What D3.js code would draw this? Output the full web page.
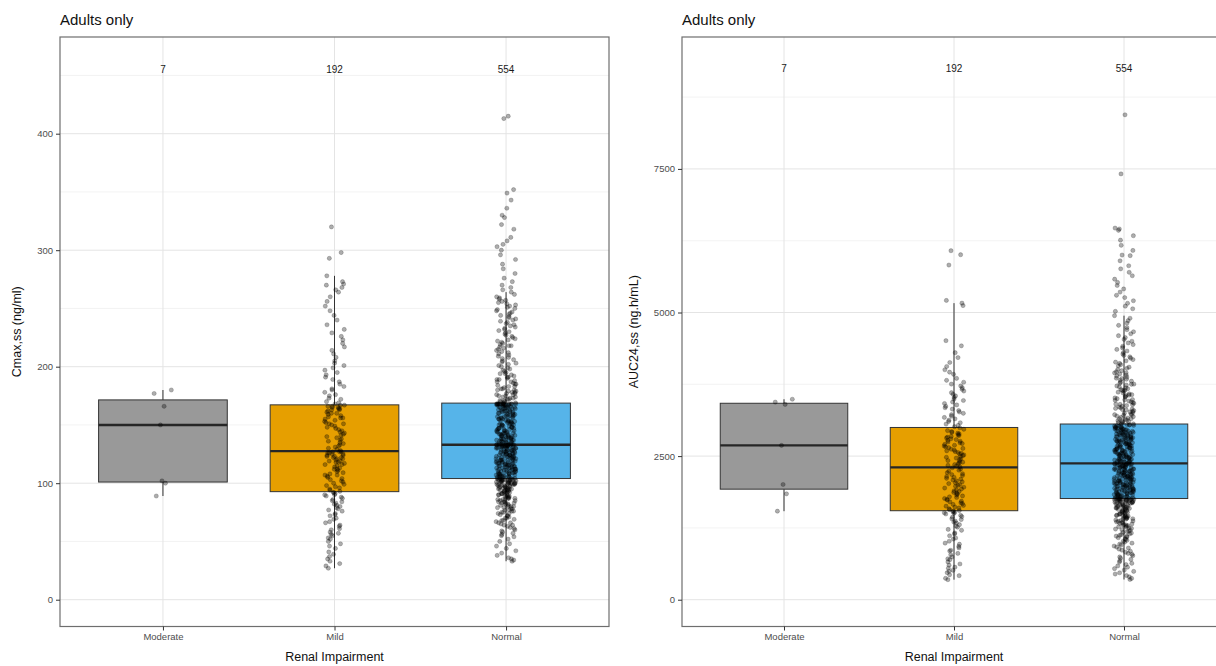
<!DOCTYPE html>
<html>
<head>
<meta charset="utf-8">
<script src="https://cdn.jsdelivr.net/npm/d3@7"></script>
<style>
  body { margin: 0; background: #fff; }
  svg { font-family: "Liberation Sans", Arial, sans-serif; }
</style>
</head>
<body>
<div id="chart"></div>
<script>
// categories, fills, n labels
const groups = ["Moderate", "Mild", "Normal"];
const groupColors = ["#999999", "#E69F00", "#56B4E9"];
const countLabels = ["7", "192", "554"];

// tick labels
const cmaxTicks = [0, 100, 200, 300, 400];
const aucTicks = [0, 2500, 5000, 7500];

// Cmax,ss (ng/ml) per subject
const cmaxModerate = [180, 177, 166, 150, 102, 100, 89];
const cmaxMild = [
  27, 29, 31, 33, 35, 37, 39, 41, 44, 46, 48, 50, 52, 53, 55, 56, 57, 58, 60, 61,
  63, 64, 66, 67, 69, 70, 72, 73, 74, 76, 77, 78, 79, 80, 81, 82, 83, 84, 85, 86,
  87, 88, 89, 90, 90, 91, 92, 92,
  93, 94, 95, 96, 97, 98, 99, 100, 101, 102, 103, 104, 105, 106, 107, 107, 108, 109, 110, 111,
  112, 112, 113, 114, 115, 116, 116, 117, 118, 118, 119, 119, 120, 121, 121, 122, 122, 123, 123, 124,
  124, 125, 125, 126, 126, 127, 127, 127,
  128, 129, 130, 131, 132, 133, 134, 135, 136, 137, 138, 139, 140, 141, 142, 143, 144, 145, 146, 147,
  148, 149, 150, 151, 151, 152, 153, 154, 155, 156, 156, 157, 158, 159, 160, 160, 161, 162, 163, 163,
  164, 164, 165, 165, 166, 166, 167, 167,
  168, 169, 170, 172, 173, 175, 176, 178, 180, 181, 183, 185, 187, 189, 191, 193, 195, 197, 199, 201,
  203, 205, 208, 211, 214, 217, 220, 223, 226, 229, 232, 236, 240, 244, 248, 252, 256, 260, 264, 266,
  268, 270, 271, 273, 278, 293, 298, 320
];
const cmaxNormal = [
  33, 34, 35, 36, 38, 40, 42, 44, 46, 48, 50, 52, 54, 55, 56, 57, 58, 59, 60, 61,
  62, 63, 64, 64, 65, 66, 66, 67, 68, 68, 69, 70, 70, 71, 72, 72, 73, 74, 74, 75,
  75, 76, 76, 77, 77, 78, 78, 79, 79, 80, 80, 80, 81, 81, 82, 82, 83, 83, 83, 84,
  84, 84, 85, 85, 86, 86, 86, 87, 87, 87, 88, 88, 88, 89, 89, 89, 90, 90, 90, 91,
  91, 91, 92, 92, 92, 92, 93, 93, 93, 94, 94, 94, 94, 95, 95, 95, 95, 96, 96, 96,
  96, 97, 97, 97, 97, 98, 98, 98, 98, 99, 99, 99, 99, 99, 100, 100, 100, 100, 100, 101,
  101, 101, 101, 101, 102, 102, 102, 102, 102, 102, 103, 103, 103, 103, 103, 103, 103, 103,
  104, 104, 104, 104, 105, 105, 105, 105, 105, 106, 106, 106, 106, 107, 107, 107, 107, 108, 108, 108,
  108, 108, 109, 109, 109, 109, 110, 110, 110, 110, 111, 111, 111, 111, 112, 112, 112, 112, 112, 113,
  113, 113, 113, 114, 114, 114, 114, 115, 115, 115, 115, 116, 116, 116, 116, 116, 117, 117, 117, 117,
  118, 118, 118, 118, 119, 119, 119, 119, 120, 120, 120, 120, 120, 121, 121, 121, 121, 122, 122, 122,
  122, 123, 123, 123, 123, 124, 124, 124, 124, 124, 125, 125, 125, 125, 126, 126, 126, 126, 127, 127,
  127, 127, 127, 128, 128, 128, 128, 129, 129, 129, 129, 130, 130, 130, 130, 130, 131, 131, 131, 131,
  131, 132, 132, 132, 132, 132, 132, 133, 133, 133, 133, 133, 133, 133, 133, 133, 133, 133,
  132, 133, 134, 134, 135, 135, 135, 135, 136, 136, 136, 136, 137, 137, 137, 137, 138, 138, 138, 138,
  139, 139, 139, 139, 140, 140, 140, 140, 141, 141, 141, 141, 142, 142, 142, 142, 143, 143, 143, 143,
  144, 144, 144, 145, 145, 145, 145, 146, 146, 146, 147, 147, 147, 147, 148, 148, 148, 149, 149, 149,
  150, 150, 150, 150, 151, 151, 151, 152, 152, 152, 153, 153, 153, 153, 154, 154, 154, 155, 155, 155,
  156, 156, 156, 157, 157, 157, 157, 158, 158, 158, 159, 159, 159, 160, 160, 160, 160, 161, 161, 161,
  162, 162, 162, 162, 163, 163, 163, 164, 164, 164, 164, 165, 165, 165, 165, 166, 166, 166, 166, 167,
  167, 167, 167, 167, 168, 168, 168, 168, 168, 168, 168, 168, 168, 168, 168, 168, 168, 168, 168,
  169, 169, 170, 170, 171, 171, 172, 172, 173, 173, 174, 174, 175, 175, 176, 176, 177, 177, 178, 178,
  179, 179, 180, 180, 181, 181, 182, 183, 183, 184, 185, 185, 186, 187, 187, 188, 189, 189, 190, 191,
  191, 192, 193, 194, 194, 195, 196, 197, 198, 199, 200, 201, 202, 203, 204, 205, 206, 207, 208, 209,
  210, 211, 212, 213, 214, 215, 216, 217, 218, 218, 219, 220, 221, 222, 223, 224, 225, 226, 227, 228,
  229, 230, 231, 232, 233, 234, 235, 236, 237, 238, 239, 240, 241, 242, 243, 244, 245, 246, 247, 248,
  249, 250, 251, 252, 253, 254, 255, 256, 257, 258, 259, 260, 262, 264, 266, 268, 270, 273, 276, 280,
  284, 288, 292, 296, 300, 303, 305, 308, 311, 322, 318, 328, 330, 336, 343, 349, 352, 413, 415
];

// AUC24,ss (ng.h/mL) per subject
const aucModerate = [3490, 3440, 3400, 2686, 2006, 1843, 1541];
const aucMild = [
  349, 372, 418, 433, 470, 495, 512, 548, 566, 601, 622, 658, 697, 712, 745, 783, 806, 848, 861, 902,
  927, 966, 985, 1018, 1056, 1074, 1113, 1146, 1162, 1208, 1224, 1263, 1281, 1306, 1334, 1352, 1368, 1395, 1408, 1436,
  1447, 1468, 1493, 1502, 1514, 1522, 1533, 1541,
  1552, 1568, 1583, 1597, 1612, 1628, 1641, 1659, 1672, 1688, 1703, 1716, 1734, 1747, 1762, 1779, 1791, 1806, 1822, 1838,
  1851, 1867, 1884, 1896, 1913, 1929, 1944, 1958, 1975, 1991, 2006, 2021, 2038, 2052, 2069, 2084, 2098, 2113, 2131, 2145,
  2162, 2178, 2193, 2211, 2236, 2254, 2276, 2297,
  2311, 2326, 2338, 2353, 2367, 2382, 2394, 2409, 2423, 2438, 2452, 2466, 2479, 2493, 2508, 2521, 2537, 2549, 2563, 2578,
  2592, 2604, 2619, 2633, 2648, 2661, 2676, 2689, 2703, 2718, 2731, 2746, 2759, 2773, 2788, 2801, 2816, 2829, 2843, 2858,
  2871, 2886, 2899, 2913, 2928, 2944, 2967, 2994,
  3012, 3034, 3057, 3081, 3102, 3126, 3149, 3173, 3196, 3221, 3245, 3268, 3293, 3318, 3342, 3367, 3391, 3416, 3442, 3468,
  3493, 3521, 3548, 3576, 3604, 3633, 3662, 3691, 3722, 3754, 3786, 3819, 3853, 3924, 3961, 4003, 4060, 4130, 4215, 4300,
  4420, 4510, 5120, 5163, 5210, 5826, 6006, 6076
];
const aucNormal = [
  352, 371, 398, 420, 447, 469, 493, 515, 541, 566, 588, 612, 633, 655, 678, 701, 722, 744, 767, 789,
  806, 826, 844, 862, 881, 899, 916, 934, 951, 968, 985, 1001, 1017, 1033, 1049, 1064, 1079, 1093, 1107, 1121,
  1134, 1147, 1160, 1172, 1184, 1196, 1208, 1219, 1230, 1241, 1252, 1262, 1272, 1282, 1292, 1302, 1311, 1320, 1329, 1338,
  1347, 1355, 1363, 1371, 1379, 1387, 1395, 1402, 1409, 1416, 1423, 1430, 1437, 1444, 1451, 1458, 1465, 1472, 1479, 1486,
  1493, 1500, 1507, 1514, 1521, 1528, 1535, 1542, 1549, 1556, 1563, 1570, 1577, 1583, 1589, 1595, 1601, 1607, 1613, 1619,
  1625, 1631, 1637, 1643, 1649, 1655, 1661, 1667, 1673, 1678, 1683, 1688, 1693, 1698, 1703, 1708, 1713, 1718, 1722, 1726,
  1730, 1734, 1738, 1742, 1745, 1748, 1751, 1754, 1102, 1288, 1455, 1598, 1700, 1712, 1737, 1747, 1752, 1755,
  1760, 1766, 1769, 1773, 1779, 1783, 1788, 1792, 1795, 1801, 1806, 1810, 1813, 1819, 1824, 1828, 1831, 1837, 1842, 1846,
  1849, 1855, 1860, 1864, 1867, 1873, 1878, 1882, 1885, 1891, 1896, 1900, 1903, 1909, 1914, 1918, 1921, 1927, 1932, 1936,
  1939, 1945, 1950, 1954, 1957, 1963, 1968, 1972, 1975, 1981, 1986, 1990, 1993, 1999, 2004, 2008, 2011, 2017, 2022, 2026,
  2029, 2035, 2040, 2044, 2047, 2053, 2058, 2062, 2065, 2071, 2076, 2080, 2083, 2089, 2094, 2098, 2101, 2107, 2112, 2116,
  2119, 2125, 2130, 2134, 2137, 2143, 2148, 2152, 2155, 2161, 2166, 2170, 2173, 2179, 2184, 2188, 2191, 2197, 2202, 2206,
  2209, 2215, 2220, 2224, 2227, 2233, 2238, 2242, 2245, 2251, 2256, 2260, 2263, 2269, 2274, 2278, 2281, 2287, 2292, 2296,
  2299, 2305, 2310, 2314, 2317, 2323, 2328, 2332, 2335, 2341, 2345, 2350, 2354, 2358, 2361, 2363, 2365, 2367,
  2372, 2376, 2383, 2387, 2391, 2398, 2402, 2406, 2412, 2417, 2421, 2428, 2431, 2437, 2441, 2446, 2452, 2455, 2461, 2466,
  2470, 2477, 2481, 2485, 2492, 2496, 2500, 2507, 2511, 2516, 2520, 2526, 2531, 2535, 2541, 2546, 2549, 2556, 2560, 2565,
  2570, 2574, 2581, 2585, 2589, 2596, 2600, 2604, 2611, 2615, 2619, 2626, 2630, 2634, 2640, 2645, 2650, 2654, 2659, 2665,
  2669, 2673, 2680, 2684, 2688, 2695, 2699, 2703, 2709, 2714, 2718, 2724, 2728, 2733, 2738, 2743, 2748, 2752, 2758, 2763,
  2767, 2772, 2777, 2782, 2786, 2792, 2796, 2801, 2806, 2810, 2816, 2820, 2825, 2831, 2835, 2839, 2845, 2850, 2854, 2860,
  2864, 2869, 2874, 2879, 2883, 2889, 2893, 2898, 2903, 2908, 2912, 2918, 2922, 2927, 2932, 2936, 2942, 2946, 2951, 2956,
  2961, 2966, 2970, 2975, 2980, 2985, 2990, 2995, 3000, 3005, 3011, 3017, 3023, 3029, 3035, 3041, 3046, 3050, 3052,
  3061, 3072, 3083, 3094, 3106, 3117, 3129, 3140, 3152, 3163, 3175, 3186, 3198, 3210, 3221, 3233, 3245, 3257, 3269, 3281,
  3293, 3305, 3318, 3330, 3342, 3355, 3367, 3380, 3393, 3406, 3419, 3432, 3445, 3458, 3472, 3485, 3499, 3513, 3527, 3541,
  3555, 3569, 3584, 3598, 3613, 3628, 3643, 3658, 3674, 3689, 3705, 3721, 3737, 3753, 3770, 3787, 3804, 3821, 3838, 3856,
  3874, 3892, 3911, 3930, 3949, 3968, 3988, 4008, 4028, 4049, 4070, 4092, 4113, 4136, 4158, 4181, 4205, 4229, 4253, 4278,
  4304, 4330, 4357, 4384, 4412, 4441, 4470, 4500, 4531, 4563, 4596, 4630, 4665, 4701, 4738, 4776, 4816, 4857, 4900, 4945,
  5020, 5065, 5110, 5160, 5205, 5260, 5300, 5355, 5410, 5470, 5523, 5580, 5640, 5700, 5760, 5814, 5900, 5990, 6000, 6080,
  6170, 6260, 6337, 6430, 6454, 6470, 7413, 8442,
  3100, 3150, 3220, 3310, 3400, 3480, 3560, 3650, 3750, 3850, 3950
];

const width = 1216;
const height = 666;

const svg = d3.select("#chart")
  .append("svg")
  .attr("width", width)
  .attr("height", height);

function boxStats(values) {
  const s = values.slice().sort(d3.ascending);
  const q1 = d3.quantile(s, 0.25);
  const med = d3.quantile(s, 0.5);
  const q3 = d3.quantile(s, 0.75);
  const iqr = q3 - q1;
  const lo = d3.min(s.filter(v => v >= q1 - 1.5 * iqr));
  const hi = d3.max(s.filter(v => v <= q3 + 1.5 * iqr));
  return { q1, med, q3, lo, hi };
}

// horizontal jitter only, fixed per point index (hash in [-1, 1])
function spread(k) {
  const h = Math.sin((k + 1) * 12.9898) * 43758.5453;
  return (h - Math.floor(h)) * 2 - 1;
}

function drawPanel(cfg) {
  const g = svg.append("g");

  const x = d3.scalePoint()
    .domain(groups)
    .range([cfg.left, cfg.right])
    .padding(0.6);
  const step = x.step();

  // ggplot style 5% expansion
  const pad = (cfg.domain[1] - cfg.domain[0]) * 0.05;
  const y = d3.scaleLinear()
    .domain([cfg.domain[0] - pad, cfg.domain[1] + pad])
    .range([cfg.bottom, cfg.top]);

  const tickStep = cfg.ticks[1] - cfg.ticks[0];
  const minor = cfg.ticks.map(t => t + tickStep / 2).filter(t => t < y.domain()[1]);

  // grid
  g.selectAll("line.minor")
    .data(minor)
    .join("line")
    .attr("x1", cfg.left).attr("x2", cfg.right)
    .attr("y1", d => y(d)).attr("y2", d => y(d))
    .attr("stroke", "#f0f0f0")
    .attr("stroke-width", 0.8);

  g.selectAll("line.major")
    .data(cfg.ticks)
    .join("line")
    .attr("x1", cfg.left).attr("x2", cfg.right)
    .attr("y1", d => y(d)).attr("y2", d => y(d))
    .attr("stroke", "#e4e4e4")
    .attr("stroke-width", 1);

  g.selectAll("line.vmajor")
    .data(groups)
    .join("line")
    .attr("x1", d => x(d)).attr("x2", d => x(d))
    .attr("y1", cfg.top).attr("y2", cfg.bottom)
    .attr("stroke", "#e4e4e4")
    .attr("stroke-width", 1);

  // boxplots
  const bw = step * 0.75;
  cfg.values.forEach((vals, i) => {
    const st = boxStats(vals);
    const cx = x(groups[i]);
    g.append("line")
      .attr("x1", cx).attr("x2", cx)
      .attr("y1", y(st.q3)).attr("y2", y(st.hi))
      .attr("stroke", "#333").attr("stroke-width", 1);
    g.append("line")
      .attr("x1", cx).attr("x2", cx)
      .attr("y1", y(st.q1)).attr("y2", y(st.lo))
      .attr("stroke", "#333").attr("stroke-width", 1);
    g.append("rect")
      .attr("x", cx - bw / 2)
      .attr("y", y(st.q3))
      .attr("width", bw)
      .attr("height", y(st.q1) - y(st.q3))
      .attr("fill", groupColors[i])
      .attr("stroke", "#333")
      .attr("stroke-width", 1);
    g.append("line")
      .attr("x1", cx - bw / 2).attr("x2", cx + bw / 2)
      .attr("y1", y(st.med)).attr("y2", y(st.med))
      .attr("stroke", "#262626").attr("stroke-width", 2.4);
  });

  // jittered points
  const jw = step * 0.058;
  cfg.values.forEach((vals, i) => {
    g.append("g")
      .selectAll("circle")
      .data(vals)
      .join("circle")
      .attr("cx", (d, k) => x(groups[i]) + spread(k + i * 1000) * jw)
      .attr("cy", d => y(d))
      .attr("r", 2.1)
      .attr("fill", "black")
      .attr("fill-opacity", 0.32)
      .attr("stroke", "black")
      .attr("stroke-opacity", 0.32)
      .attr("stroke-width", 0.6);
  });

  // n labels
  g.selectAll("text.count")
    .data(groups)
    .join("text")
    .attr("x", d => x(d))
    .attr("y", y(cfg.countY))
    .attr("dy", "0.35em")
    .attr("text-anchor", "middle")
    .attr("font-size", "10px")
    .attr("fill", "#1a1a1a")
    .text((d, i) => countLabels[i]);

  // panel border
  g.append("rect")
    .attr("x", cfg.left).attr("y", cfg.top)
    .attr("width", cfg.right - cfg.left)
    .attr("height", cfg.bottom - cfg.top)
    .attr("fill", "none")
    .attr("stroke", "#6e6e6e")
    .attr("stroke-width", 1.2);

  // axes
  const ay = g.append("g")
    .attr("transform", `translate(${cfg.left},0)`)
    .call(d3.axisLeft(y).tickValues(cfg.ticks).tickFormat(d3.format("d")).tickSize(4).tickPadding(3));
  ay.select(".domain").remove();
  ay.selectAll("line").attr("stroke", "#333");
  ay.selectAll("text").attr("fill", "#4d4d4d").style("font-size", "9.5px").style("font-family", null);

  const ax = g.append("g")
    .attr("transform", `translate(0,${cfg.bottom})`)
    .call(d3.axisBottom(x).tickSize(4).tickPadding(3));
  ax.select(".domain").remove();
  ax.selectAll("line").attr("stroke", "#333");
  ax.selectAll("text").attr("fill", "#4d4d4d").style("font-size", "9.5px").style("font-family", null);

  // titles
  g.append("text")
    .attr("x", cfg.left)
    .attr("y", 25)
    .attr("font-size", "15px")
    .attr("fill", "#111")
    .text("Adults only");

  g.append("text")
    .attr("x", (cfg.left + cfg.right) / 2)
    .attr("y", 661)
    .attr("text-anchor", "middle")
    .attr("font-size", "12.5px")
    .attr("fill", "#111")
    .text("Renal Impairment");

  g.append("text")
    .attr("transform", `translate(${cfg.yTitleX},${(cfg.top + cfg.bottom) / 2}) rotate(-90)`)
    .attr("text-anchor", "middle")
    .attr("font-size", "12.5px")
    .attr("fill", "#111")
    .text(cfg.yTitle);
}

drawPanel({
  left: 60, right: 609, top: 37, bottom: 626.5,
  domain: [0, 460],
  ticks: cmaxTicks,
  countY: 455,
  values: [cmaxModerate, cmaxMild, cmaxNormal],
  yTitle: "Cmax,ss (ng/ml)",
  yTitleX: 21
});

drawPanel({
  left: 682, right: 1226, top: 37, bottom: 626.5,
  domain: [0, 9330],
  ticks: aucTicks,
  countY: 9250,
  values: [aucModerate, aucMild, aucNormal],
  yTitle: "AUC24,ss (ng.h/mL)",
  yTitleX: 638
});
</script>
</body>
</html>
